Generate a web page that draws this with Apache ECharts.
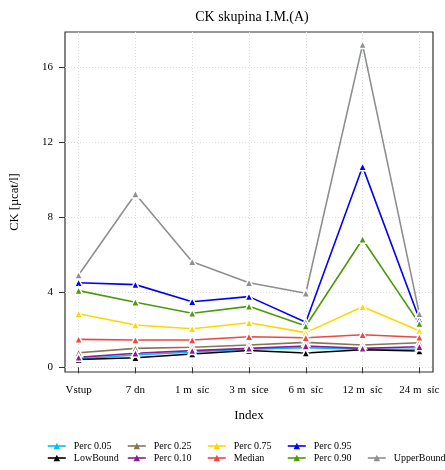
<!DOCTYPE html>
<html>
<head>
<meta charset="utf-8">
<script src="https://cdn.jsdelivr.net/npm/echarts@6/dist/echarts.min.js"></script>
<style>html,body{margin:0;padding:0;background:#fff}#c{width:445px;height:470px}</style>
</head>
<body>
<div id="c"></div>
<script>
const categories = ["Vstup", "7 dn", "1 m  síc", "3 m  síce", "6 m  síc", "12 m  síc", "24 m  síc"];
const yTicks = [0, 4, 8, 12, 16];
const lowBound = [0.42, 0.51, 0.71, 0.90, 0.76, 0.94, 0.87];
const perc05 = [0.44, 0.66, 0.82, 0.96, 1.05, 0.96, 0.96];
const perc10 = [0.53, 0.75, 0.89, 1.01, 1.14, 1.01, 1.10];
const perc25 = [0.78, 1.01, 1.07, 1.19, 1.33, 1.19, 1.31];
const median = [1.49, 1.46, 1.46, 1.63, 1.58, 1.74, 1.60];
const perc75 = [2.86, 2.26, 2.06, 2.38, 1.85, 3.23, 1.95];
const perc90 = [4.09, 3.47, 2.88, 3.25, 2.20, 6.83, 2.33];
const perc95 = [4.51, 4.41, 3.50, 3.77, 2.40, 10.70, 2.56];
const upperBound = [4.92, 9.24, 5.63, 4.51, 3.95, 17.21, 2.85];

const FONT = '"Liberation Serif", "DejaVu Serif", serif';
const seriesDefs = [
  {name: 'Perc 0.05', data: perc05, color: '#00BFFF', col: 0, row: 0},
  {name: 'LowBound', data: lowBound, color: '#000000', col: 0, row: 1},
  {name: 'Perc 0.25', data: perc25, color: '#8B7355', col: 1, row: 0},
  {name: 'Perc 0.10', data: perc10, color: '#8E1A96', col: 1, row: 1},
  {name: 'Perc 0.75', data: perc75, color: '#FFD700', col: 2, row: 0},
  {name: 'Median', data: median, color: '#EF4545', col: 2, row: 1},
  {name: 'Perc 0.95', data: perc95, color: '#0000FF', col: 3, row: 0},
  {name: 'Perc 0.90', data: perc90, color: '#4C9A06', col: 3, row: 1},
  {name: 'UpperBound', data: upperBound, color: '#8C908E', col: 4, row: 1}
];
const xVals = categories.map((c, i) => i + 1);

const series = seriesDefs.map(d => ({
  name: d.name,
  type: 'line',
  data: d.data.map((v, i) => [xVals[i], v]),
  symbol: 'triangle',
  symbolSize: 8,
  color: d.color,
  lineStyle: {width: 1.6, color: d.color},
  itemStyle: {color: d.color, borderColor: '#fff', borderWidth: 1.5},
  emphasis: {disabled: true},
  animation: false,
  z: 2
}));

const legends = seriesDefs.map(d => ({
  data: [{name: d.name, itemStyle: {color: d.color, borderWidth: 0}, lineStyle: {color: d.color, width: 1.6, type: 'solid'}}],
  left: 47 + d.col * 80,
  top: d.row === 0 ? 441 : 453,
  padding: 0,
  itemWidth: 18,
  itemHeight: 8,
  selectedMode: false,
  itemStyle: {borderWidth: 0},
  lineStyle: {type: 'solid'},
  textStyle: {fontFamily: FONT, fontSize: 10, color: '#000', padding: [0, 0, 0, 3]}
}));

const chart = echarts.init(document.getElementById('c'), null, {renderer: 'canvas'});
chart.setOption({
  backgroundColor: '#fff',
  animation: false,
  title: {
    text: 'CK skupina I.M.(A)',
    left: 247, top: 5, textAlign: 'center',
    textStyle: {fontFamily: FONT, fontSize: 14, fontWeight: 'normal', color: '#000'}
  },
  legend: legends,
  grid: {left: 62, right: 12, top: 32, bottom: 98, show: true, borderColor: '#333', borderWidth: 1.2, backgroundColor: 'transparent'},
  xAxis: {
    type: 'value', min: 0.76, max: 7.24,
    name: 'Index', nameLocation: 'middle', nameGap: 37,
    nameTextStyle: {fontFamily: FONT, fontSize: 13, color: '#000'},
    axisLine: {show: false},
    axisTick: {show: true, length: 6, inside: false, customValues: xVals, lineStyle: {color: '#333'}},
    axisLabel: {
      customValues: xVals, margin: 13,
      fontFamily: FONT, fontSize: 11, color: '#000',
      formatter: v => categories[Math.round(v) - 1] || ''
    },
    splitLine: {show: true, lineStyle: {color: '#dcdcdc', type: [1, 2], width: 1}}
  },
  yAxis: {
    type: 'value', min: -0.25, max: 17.88,
    name: 'CK [µcat/l]', nameLocation: 'middle', nameGap: 44,
    nameTextStyle: {fontFamily: FONT, fontSize: 12.5, color: '#000'},
    axisLine: {show: false},
    axisTick: {show: true, length: 6, inside: false, customValues: yTicks, lineStyle: {color: '#333'}},
    axisLabel: {customValues: yTicks, margin: 12, fontFamily: FONT, fontSize: 11, color: '#000'},
    splitLine: {show: true, lineStyle: {color: '#dcdcdc', type: [1, 2], width: 1}}
  },
  series: series
});
</script>
</body>
</html>
